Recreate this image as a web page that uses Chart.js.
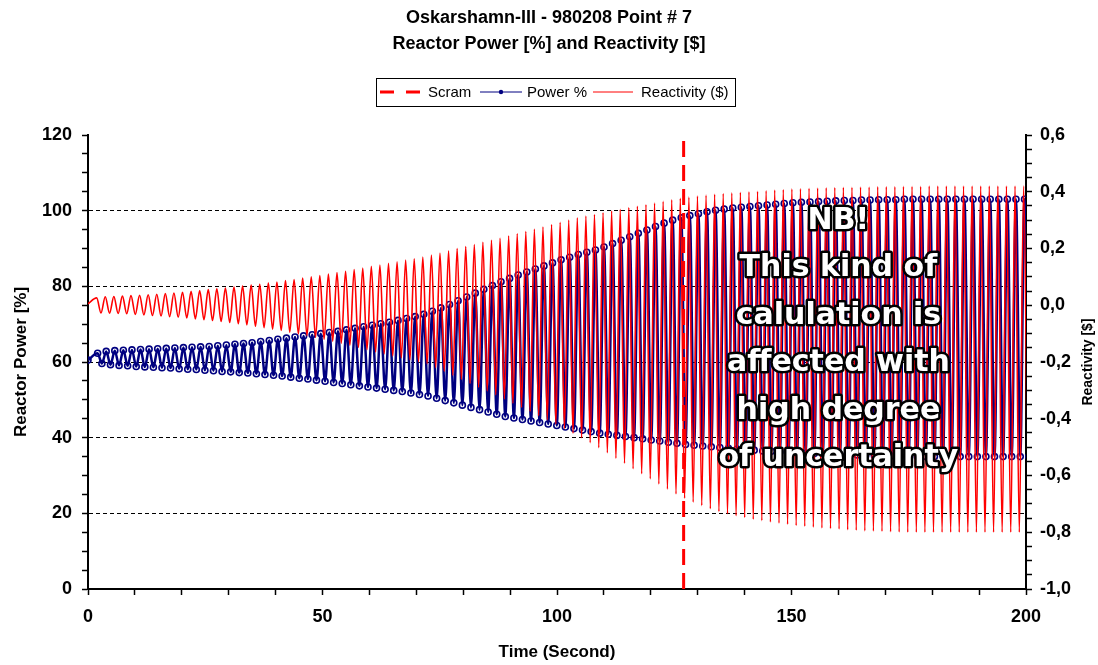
<!DOCTYPE html>
<html>
<head>
<meta charset="utf-8">
<title>Oskarshamn-III - 980208 Point # 7</title>
<script src="https://cdn.jsdelivr.net/npm/chart.js@4.4.0/dist/chart.umd.min.js"></script>
<style>
    html, body { margin: 0; padding: 0; background: #fff; }
</style>
</head>
<body>
<canvas id="powerChart" width="1098" height="665"></canvas>
<script>
// Oscillation timing (seconds)
const firstPeakTime = 1.85;
const cyclePeriod = 1.83;
const powerLag = 0.2;
const scramTime = 127;

// Initial steady state
const reactStart = 0.005;
const powerStart = 60.5;

// Reactivity ($): maximum and minimum of each oscillation cycle
const reactPeaks = [
    0.026, 0.030, 0.031, 0.032, 0.034, 0.035, 0.037, 0.039, 0.041, 0.043,
    0.046, 0.049, 0.052, 0.055, 0.058, 0.061, 0.064, 0.068, 0.071, 0.074,
    0.078, 0.082, 0.087, 0.091, 0.096, 0.100, 0.105, 0.110, 0.115, 0.120,
    0.126, 0.131, 0.137, 0.142, 0.148, 0.153, 0.159, 0.164, 0.170, 0.177,
    0.184, 0.192, 0.200, 0.207, 0.214, 0.222, 0.229, 0.236, 0.244, 0.252,
    0.260, 0.268, 0.276, 0.284, 0.292, 0.300, 0.308, 0.314, 0.320, 0.326,
    0.332, 0.338, 0.344, 0.349, 0.354, 0.360, 0.366, 0.372, 0.377, 0.381,
    0.385, 0.388, 0.391, 0.394, 0.396, 0.398, 0.400, 0.402, 0.404, 0.406,
    0.408, 0.410, 0.411, 0.412, 0.413, 0.414, 0.415, 0.416, 0.416, 0.417,
    0.417, 0.418, 0.418, 0.418, 0.419, 0.419, 0.419, 0.420, 0.420, 0.420,
    0.420, 0.420, 0.420, 0.420, 0.420, 0.420, 0.420, 0.420, 0.420
];
const reactTroughs = [
    -0.027, -0.028, -0.029, -0.030, -0.032, -0.034, -0.036, -0.038, -0.040, -0.042,
    -0.045, -0.048, -0.051, -0.054, -0.057, -0.061, -0.065, -0.069, -0.074, -0.079,
    -0.084, -0.089, -0.095, -0.101, -0.107, -0.113, -0.120, -0.127, -0.134, -0.141,
    -0.149, -0.157, -0.165, -0.172, -0.179, -0.186, -0.193, -0.199, -0.206, -0.220,
    -0.233, -0.247, -0.261, -0.275, -0.289, -0.302, -0.316, -0.330, -0.345, -0.360,
    -0.374, -0.389, -0.404, -0.419, -0.435, -0.451, -0.467, -0.484, -0.502, -0.520,
    -0.539, -0.557, -0.576, -0.594, -0.612, -0.630, -0.648, -0.665, -0.680, -0.694,
    -0.706, -0.717, -0.727, -0.735, -0.742, -0.748, -0.754, -0.759, -0.764, -0.768,
    -0.772, -0.776, -0.779, -0.782, -0.785, -0.787, -0.789, -0.791, -0.793, -0.795,
    -0.796, -0.797, -0.798, -0.799, -0.800, -0.800, -0.800, -0.800, -0.800, -0.800,
    -0.800, -0.800, -0.800, -0.800, -0.800, -0.800, -0.800, -0.800, -0.800
];

// Reactor power (%): maximum and minimum of each oscillation cycle
const powerPeaks = [
    62.3, 62.8, 63.0, 63.1, 63.2, 63.3, 63.4, 63.5, 63.6, 63.7,
    63.8, 63.9, 64.0, 64.1, 64.3, 64.5, 64.7, 64.9, 65.1, 65.4,
    65.7, 66.0, 66.3, 66.6, 66.9, 67.2, 67.5, 67.8, 68.1, 68.5,
    68.9, 69.3, 69.7, 70.1, 70.5, 71.0, 71.5, 72.0, 72.6, 73.4,
    74.3, 75.2, 76.2, 77.2, 78.2, 79.2, 80.2, 81.2, 82.1, 83.0,
    83.8, 84.6, 85.4, 86.2, 87.0, 87.7, 88.4, 89.0, 89.6, 90.4,
    91.3, 92.2, 93.1, 94.0, 94.9, 95.8, 96.7, 97.5, 98.1, 98.7,
    99.2, 99.7, 100.1, 100.4, 100.7, 100.9, 101.1, 101.3, 101.5, 101.7,
    101.9, 102.1, 102.2, 102.3, 102.4, 102.5, 102.6, 102.7, 102.7, 102.8,
    102.8, 102.9, 102.9, 102.9, 103.0, 103.0, 103.0, 103.0, 103.0, 103.0,
    103.0, 103.0, 103.0, 103.0, 103.0, 103.0, 103.0, 103.0, 103.0
];
const powerTroughs = [
    59.6, 59.3, 59.1, 59.0, 58.8, 58.7, 58.6, 58.5, 58.4, 58.2,
    58.1, 58.0, 57.8, 57.7, 57.5, 57.4, 57.2, 57.1, 56.9, 56.7,
    56.5, 56.3, 56.0, 55.7, 55.5, 55.2, 54.9, 54.6, 54.3, 54.0,
    53.7, 53.4, 53.1, 52.8, 52.5, 52.2, 51.8, 51.4, 51.0, 50.4,
    49.8, 49.2, 48.6, 48.0, 47.4, 46.8, 46.2, 45.6, 45.2, 44.8,
    44.4, 44.0, 43.6, 43.2, 42.8, 42.4, 42.0, 41.6, 41.2, 40.9,
    40.6, 40.3, 40.0, 39.7, 39.4, 39.1, 38.8, 38.5, 38.2, 38.0,
    37.8, 37.6, 37.4, 37.2, 37.0, 36.8, 36.7, 36.5, 36.4, 36.2,
    36.1, 36.0, 35.9, 35.8, 35.7, 35.6, 35.5, 35.4, 35.4, 35.3,
    35.3, 35.2, 35.2, 35.1, 35.0, 35.0, 35.0, 35.0, 35.0, 35.0,
    35.0, 35.0, 35.0, 35.0, 35.0, 35.0, 35.0, 35.0, 35.0
];

// Texts
const titleLines = ["Oskarshamn-III - 980208 Point # 7", "Reactor Power [%] and Reactivity [$]"];
const seriesNames = ["Scram", "Power %", "Reactivity ($)"];
const noteLines = ["NB!", "This kind of", "calulation is", "affected with", "high degree", "of uncertainty"];

const FONT = "'Liberation Sans', Arial, sans-serif";
const RED = "#ff0000";
const NAVY = "#000080";

// Alternate peak / trough points for each cycle
function buildSeries(start, peaks, troughs, shift) {
    const pts = [{ x: 0, y: start }];
    for (let k = 0; k < peaks.length; k++) {
        const t = firstPeakTime + shift + k * cyclePeriod;
        pts.push({ x: t, y: peaks[k] });
        pts.push({ x: t + cyclePeriod / 2, y: troughs[k] });
    }
    return pts;
}

const reactivitySeries = buildSeries(reactStart, reactPeaks, reactTroughs, 0);
const powerSeries = buildSeries(powerStart, powerPeaks, powerTroughs, powerLag);
const scramLine = [{ x: scramTime, y: 0 }, { x: scramTime, y: 120 }];

// Legend, right axis title and the boxed note
const overlays = {
    id: "overlays",
    afterDraw(chart) {
        const c = chart.ctx;
        c.save();

        // legend box
        c.strokeStyle = "#000";
        c.lineWidth = 1;
        c.strokeRect(376.5, 78.5, 359, 28);
        const ly = 92;
        c.lineWidth = 3;
        c.strokeStyle = RED;
        c.setLineDash([14, 12]);
        c.beginPath(); c.moveTo(380, ly); c.lineTo(420, ly); c.stroke();
        c.setLineDash([]);
        c.lineWidth = 1;
        c.strokeStyle = NAVY;
        c.beginPath(); c.moveTo(480, ly); c.lineTo(522, ly); c.stroke();
        c.fillStyle = NAVY;
        c.beginPath(); c.arc(501, ly, 2.2, 0, Math.PI * 2); c.fill();
        c.strokeStyle = RED;
        c.beginPath(); c.moveTo(593, ly); c.lineTo(633, ly); c.stroke();
        c.fillStyle = "#000";
        c.font = "15px " + FONT;
        c.textBaseline = "middle";
        c.textAlign = "left";
        c.fillText(seriesNames[0], 428, ly + 1);
        c.fillText(seriesNames[1], 527, ly + 1);
        c.fillText(seriesNames[2], 641, ly + 1);

        // right axis title, reading upwards
        const area = chart.chartArea;
        c.translate(1088, (area.top + area.bottom) / 2);
        c.rotate(-Math.PI / 2);
        c.font = "bold 14px " + FONT;
        c.textAlign = "center";
        c.fillText("Reactivity [$]", 0, 0);
        c.setTransform(1, 0, 0, 1, 0, 0);

        // outlined note text
        const cx = chart.scales.x.getPixelForValue(160);
        c.font = "bold 30px 'DejaVu Sans', sans-serif";
        c.textAlign = "center";
        c.lineJoin = "round";
        c.lineWidth = 5;
        c.strokeStyle = "#000";
        c.fillStyle = "#fff";
        noteLines.forEach((line, i) => {
            const y = area.top + 86 + i * 47.5;
            c.strokeText(line, cx, y);
            c.fillText(line, cx, y);
        });
        c.restore();
    }
};

const tickFont = { family: FONT, size: 18, weight: "bold" };
const axisTitleFont = { family: FONT, size: 17, weight: "bold" };

const ctx = document.getElementById("powerChart").getContext("2d");
const powerChart = new Chart(ctx, {
    type: "line",
    data: {
        datasets: [
            {
                label: seriesNames[0],
                data: scramLine,
                yAxisID: "y",
                borderColor: RED,
                borderWidth: 3,
                borderDash: [16, 8],
                pointRadius: 0,
                order: 0,
            },
            {
                label: seriesNames[1],
                data: powerSeries,
                yAxisID: "y",
                borderColor: NAVY,
                borderWidth: 2.5,
                pointRadius: 3,
                pointBorderWidth: 1.6,
                pointBorderColor: NAVY,
                pointBackgroundColor: "rgba(255,255,255,0)",
                cubicInterpolationMode: "monotone",
                order: 2,
            },
            {
                label: seriesNames[2],
                data: reactivitySeries,
                yAxisID: "y1",
                borderColor: RED,
                borderWidth: 1.6,
                pointRadius: 0,
                cubicInterpolationMode: "monotone",
                order: 1,
            },
        ],
    },
    options: {
        responsive: false,
        animation: false,
        layout: { padding: 0 },
        plugins: {
            legend: { display: false },
            tooltip: { enabled: false },
            title: {
                display: true,
                text: titleLines,
                color: "#000",
                font: { family: FONT, size: 18, weight: "bold", lineHeight: 1.45 },
                padding: { top: 5, bottom: 77.8 },
            },
        },
        scales: {
            x: {
                type: "linear",
                min: 0,
                max: 200,
                afterFit: (s) => { s.height = 76; },
                ticks: {
                    stepSize: 10,
                    autoSkip: false,
                    maxRotation: 0,
                    color: "#000",
                    padding: 11,
                    font: tickFont,
                    callback: (v) => (v % 50 === 0 ? v : ""),
                },
                grid: { drawOnChartArea: false, tickLength: 6, tickColor: "#000", tickWidth: 1.5 },
                border: { color: "#000", width: 2 },
                title: {
                    display: true,
                    text: "Time (Second)",
                    color: "#000",
                    font: axisTitleFont,
                    padding: { top: 0, bottom: 2 },
                },
            },
            y: {
                position: "left",
                min: 0,
                max: 120,
                afterFit: (s) => { s.width = 88; },
                ticks: {
                    stepSize: 5,
                    autoSkip: false,
                    color: "#000",
                    padding: 10,
                    font: tickFont,
                    callback: (v) => (v % 20 === 0 ? v : ""),
                },
                grid: {
                    color: (c) => {
                        const v = c.tick ? c.tick.value : 0;
                        return v % 20 === 0 && v > 0 && v < 120 ? "#000" : "rgba(0,0,0,0)";
                    },
                    lineWidth: 1,
                    tickLength: 6,
                    tickColor: "#000",
                    tickWidth: 1.5,
                },
                border: { color: "#000", width: 2, dash: [4, 3] },
                title: {
                    display: true,
                    text: "Reactor Power [%]",
                    color: "#000",
                    font: axisTitleFont,
                    padding: { top: 11, bottom: 0 },
                },
            },
            y1: {
                position: "right",
                min: -1,
                max: 0.6,
                afterFit: (s) => { s.width = 72; },
                ticks: {
                    stepSize: 0.05,
                    autoSkip: false,
                    color: "#000",
                    padding: 8,
                    font: tickFont,
                    callback: (v) => {
                        const r = Math.round(v * 100);
                        return r % 20 === 0 ? (r / 100).toFixed(1).replace(".", ",") : "";
                    },
                },
                grid: { drawOnChartArea: false, tickLength: 6, tickColor: "#000", tickWidth: 1.5 },
                border: { color: "#000", width: 2 },
            },
        },
    },
    plugins: [overlays],
});
</script>
</body>
</html>
